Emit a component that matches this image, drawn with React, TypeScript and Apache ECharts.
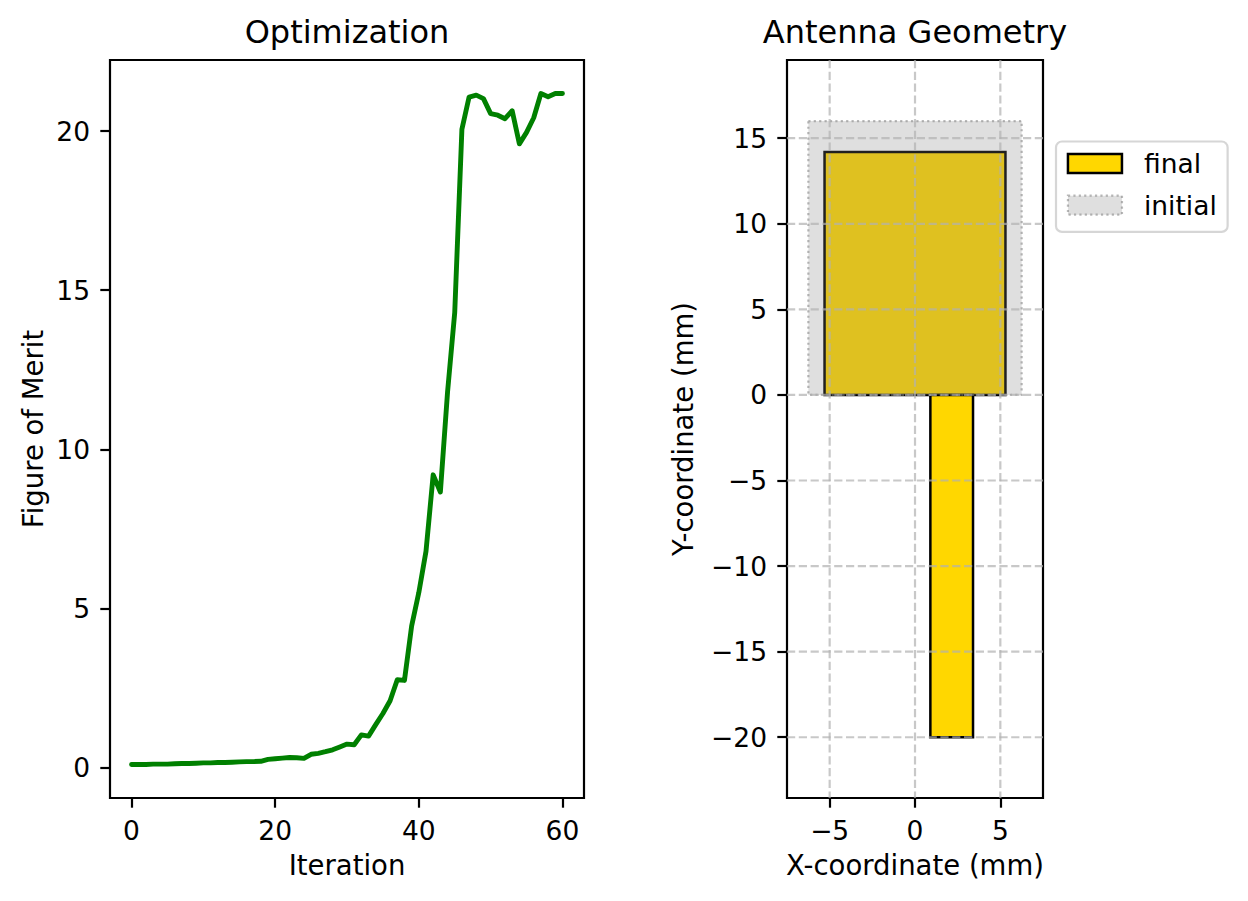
import React, { useEffect, useRef } from "react";
import * as echarts from "echarts";

// ---------- Data ----------
// Figure of merit per iteration (iterations 0..60)
const meritValues: number[] = [
  0.10, 0.10, 0.10, 0.11, 0.11, 0.11, 0.12, 0.13, 0.13, 0.14,
  0.15, 0.15, 0.16, 0.16, 0.17, 0.18, 0.19, 0.19, 0.20, 0.26,
  0.28, 0.30, 0.32, 0.31, 0.29, 0.42, 0.45, 0.50, 0.56, 0.65,
  0.74, 0.72, 1.03, 0.99, 1.35, 1.70, 2.10, 2.76, 2.74, 4.45,
  5.50, 6.80, 9.20, 8.66, 11.8, 14.3, 20.06, 21.07, 21.13, 21.02,
  20.55, 20.50, 20.39, 20.64, 19.60, 19.96, 20.42, 21.18, 21.08, 21.18,
  21.18,
];

const meritXTicks = [0, 20, 40, 60];
const meritYTicks = [0, 5, 10, 15, 20];

// Antenna geometry rectangles: [x0, x1, y0, y1] in mm
const finalRects: number[][] = [
  [-5.3, 5.3, 0, 14.2], // patch
  [0.9, 3.4, -20, 0],   // feed line
];
const initialRects: number[][] = [
  [-6.25, 6.25, 0, 16],
];

const geoXTicks = [-5, 0, 5];
const geoYTicks = [-20, -15, -10, -5, 0, 5, 10, 15];
const geoXRange = [-7.5, 7.5];
const geoYRange = [-23.55, 19.57];

// ---------- Styling ----------
const FONT = "DejaVu Sans";
const TICK_FS = 26.5;
const LABEL_FS = 27.5;
const LEGEND_FS = 26.5;
const TITLE_FS = 32;
const SPINE_W = 2.2;
const minus = (v: number) => String(v).replace("-", "\u2212");

function rectRenderer(params: any, api: any) {
  const x0 = api.value(0);
  const x1 = api.value(1);
  const y0 = api.value(2);
  const y1 = api.value(3);
  const p0 = api.coord([x0, y1]);
  const p1 = api.coord([x1, y0]);
  return {
    type: "rect",
    shape: { x: p0[0], y: p0[1], width: p1[0] - p0[0], height: p1[1] - p0[1] },
    style: api.style(),
  };
}

export default function App() {
  const ref = useRef<HTMLDivElement>(null);

  useEffect(() => {
    if (!ref.current) return;
    const chart = echarts.init(ref.current, undefined, { renderer: "svg" });

    const mMin = Math.min(...meritValues);
    const mMax = Math.max(...meritValues);
    const mPad = (mMax - mMin) * 0.05;
    const n = meritValues.length - 1;
    const xPad = n * 0.05;

    const tickStyle = { show: true, length: 9.7, lineStyle: { color: "#000", width: SPINE_W } };
    const labelStyle = { color: "#000", fontSize: TICK_FS, fontFamily: FONT, formatter: minus };
    const nameStyle = { color: "#000", fontSize: LABEL_FS, fontFamily: FONT };
    const hiddenLine = { show: false, onZero: false };
    const gridLineStyle = {
      stroke: "rgba(176,176,176,0.7)",
      lineWidth: 2.2,
      lineDash: [8.2, 3.6],
    };

    const option: any = {
      animation: false,
      backgroundColor: "#fff",
      textStyle: { fontFamily: FONT },
      title: [
        {
          text: "Optimization",
          left: 347,
          top: 16,
          textAlign: "center",
          padding: 0,
          textStyle: { fontSize: TITLE_FS, fontWeight: "normal", color: "#000", fontFamily: FONT },
        },
        {
          text: "Antenna Geometry",
          left: 915,
          top: 16,
          textAlign: "center",
          padding: 0,
          textStyle: { fontSize: TITLE_FS, fontWeight: "normal", color: "#000", fontFamily: FONT },
        },
      ],
      legend: {
        orient: "vertical",
        left: 1056,
        top: 141.5,
        padding: [8, 10.8, 12.7, 10.7],
        itemWidth: 54,
        itemHeight: 19,
        itemGap: 13.7,
        borderColor: "#d6d6d6",
        borderWidth: 2.2,
        borderRadius: 6,
        backgroundColor: "rgba(255,255,255,0.8)",
        selectedMode: false,
        textStyle: {
          color: "#000",
          fontSize: LEGEND_FS,
          fontFamily: FONT,
          lineHeight: 28,
          padding: [0, 0, 0, 17],
        },
        data: [
          {
            name: "final",
            icon: "rect",
            itemStyle: { color: "#FFD700", borderColor: "#000", borderWidth: 2.5 },
          },
          {
            name: "initial",
            icon: "rect",
            itemStyle: {
              color: "rgba(128,128,128,0.25)",
              borderColor: "rgba(128,128,128,0.55)",
              borderWidth: 2.2,
              borderType: [2.2, 3.2],
            },
          },
        ],
      },
      grid: [
        {
          left: 110,
          top: 60,
          width: 474,
          height: 738,
          show: true,
          borderColor: "#000",
          borderWidth: SPINE_W,
          backgroundColor: "transparent",
        },
        {
          left: 787,
          top: 60,
          width: 256,
          height: 738,
          show: true,
          borderColor: "#000",
          borderWidth: SPINE_W,
          backgroundColor: "transparent",
        },
      ],
      xAxis: [
        {
          gridIndex: 0,
          type: "value",
          min: -xPad,
          max: n + xPad,
          axisLine: hiddenLine,
          axisTick: { ...tickStyle, customValues: meritXTicks },
          axisLabel: { ...labelStyle, margin: 19, customValues: meritXTicks },
          splitLine: { show: false },
          name: "Iteration",
          nameLocation: "middle",
          nameGap: 53,
          nameTextStyle: nameStyle,
        },
        {
          gridIndex: 1,
          type: "value",
          min: geoXRange[0],
          max: geoXRange[1],
          axisLine: hiddenLine,
          axisTick: { ...tickStyle, customValues: geoXTicks },
          axisLabel: { ...labelStyle, margin: 19, customValues: geoXTicks },
          splitLine: { show: false },
          name: "X-coordinate (mm)",
          nameLocation: "middle",
          nameGap: 53,
          nameTextStyle: nameStyle,
        },
      ],
      yAxis: [
        {
          gridIndex: 0,
          type: "value",
          min: mMin - mPad,
          max: mMax + mPad,
          axisLine: hiddenLine,
          axisTick: { ...tickStyle, customValues: meritYTicks },
          axisLabel: { ...labelStyle, margin: 20, customValues: meritYTicks },
          splitLine: { show: false },
          name: "Figure of Merit",
          nameLocation: "middle",
          nameGap: 63,
          nameTextStyle: nameStyle,
        },
        {
          gridIndex: 1,
          type: "value",
          min: geoYRange[0],
          max: geoYRange[1],
          axisLine: hiddenLine,
          axisTick: { ...tickStyle, customValues: geoYTicks },
          axisLabel: { ...labelStyle, margin: 20, customValues: geoYTicks },
          splitLine: { show: false },
          name: "Y-coordinate (mm)",
          nameLocation: "middle",
          nameGap: 90,
          nameTextStyle: nameStyle,
        },
      ],
      series: [
        {
          name: "Figure of Merit",
          type: "line",
          xAxisIndex: 0,
          yAxisIndex: 0,
          data: meritValues.map((v, i) => [i, v]),
          showSymbol: false,
          symbol: "none",
          lineStyle: { color: "#008000", width: 4.9, join: "round", cap: "round" },
          itemStyle: { color: "#008000" },
          silent: true,
        },
        {
          name: "final",
          type: "custom",
          xAxisIndex: 1,
          yAxisIndex: 1,
          data: finalRects,
          encode: { x: [0, 1], y: [2, 3] },
          renderItem: rectRenderer,
          itemStyle: { color: "#FFD700", borderColor: "#000", borderWidth: 2.5 },
          silent: true,
          z: 2,
        },
        {
          name: "initial",
          type: "custom",
          xAxisIndex: 1,
          yAxisIndex: 1,
          data: initialRects,
          encode: { x: [0, 1], y: [2, 3] },
          renderItem: rectRenderer,
          itemStyle: {
            color: "rgba(128,128,128,0.25)",
            borderColor: "rgba(128,128,128,0.55)",
            borderWidth: 2.2,
            borderType: [2.2, 3.2],
          },
          silent: true,
          z: 3,
        },
        {
          name: "gridV",
          type: "custom",
          xAxisIndex: 1,
          yAxisIndex: 1,
          data: geoXTicks.map((v) => [v, 0]),
          renderItem: (params: any, api: any) => {
            const x = api.value(0);
            const a = api.coord([x, geoYRange[1]]);
            const b = api.coord([x, geoYRange[0]]);
            return {
              type: "line",
              shape: { x1: a[0], y1: a[1], x2: b[0], y2: b[1] },
              style: gridLineStyle,
            };
          },
          silent: true,
          z: 4,
        },
        {
          name: "gridH",
          type: "custom",
          xAxisIndex: 1,
          yAxisIndex: 1,
          data: geoYTicks.map((v) => [0, v]),
          renderItem: (params: any, api: any) => {
            const y = api.value(1);
            const a = api.coord([geoXRange[0], y]);
            const b = api.coord([geoXRange[1], y]);
            return {
              type: "line",
              shape: { x1: a[0], y1: a[1], x2: b[0], y2: b[1] },
              style: gridLineStyle,
            };
          },
          silent: true,
          z: 4,
        },
      ],
    };

    chart.setOption(option);
    return () => {
      chart.dispose();
    };
  }, []);

  return (
    <div
      ref={ref}
      style={{ position: "fixed", left: 0, top: 0, width: 1248, height: 901, background: "#fff" }}
    />
  );
}
